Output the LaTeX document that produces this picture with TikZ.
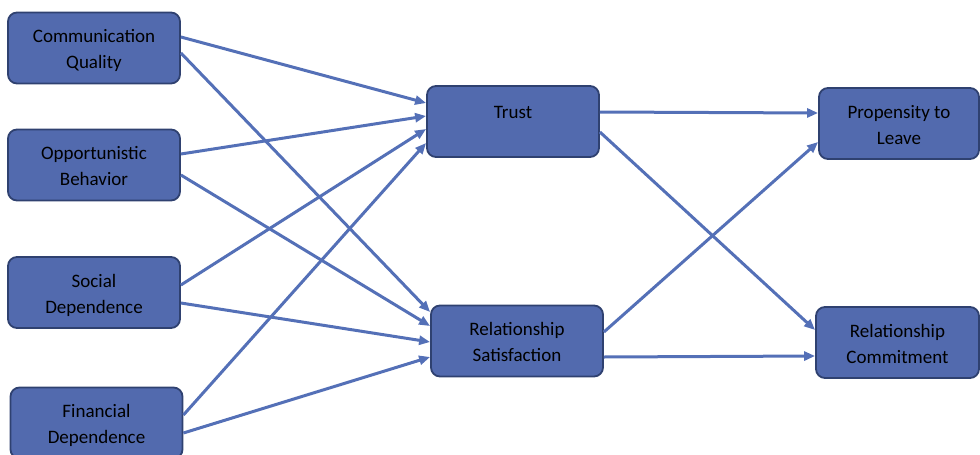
\documentclass[tikz,border=0pt]{standalone}
\usepackage{fontspec}
\setmainfont{Carlito}
\usetikzlibrary{arrows.meta}

\definecolor{boxfill}{RGB}{82,106,174}
\definecolor{boxline}{RGB}{47,65,112}
\definecolor{linkblue}{RGB}{84,112,183}

\tikzset{
  factor/.style={draw=boxline, fill=boxfill, line width=1.8pt, rounded corners=9pt,
    minimum height=71pt, minimum width=172pt, inner sep=0pt, align=center,
    text height=46pt, text depth=5pt,
    text=black, font=\fontsize{19}{26}\selectfont},
  link/.style={->, draw=linkblue, line width=3pt},
}

\begin{document}
\begin{tikzpicture}[line join=round,>={Triangle[length=11pt,width=9pt]},x=1pt,y=-1pt]
        \useasboundingbox (0,0) rectangle (980,455);
        % left column
        \node[factor] (comm) at (94,48) {Communication\\Quality};
        \node[factor] (oppb) at (94,165) {Opportunistic\\Behavior};
        \node[factor] (socd) at (94,292.5) {Social\\Dependence};
        \node[factor] (find) at (96.5,423) {Financial\\Dependence};
        % middle column
        \node[factor, text height=15pt, text depth=21pt] (trust) at (513,121.5) {Trust};
        \node[factor] (rsat) at (517,341) {Relationship\\Satisfaction};
        % right column
        \node[factor, minimum width=160pt] (leave) at (899,123.5) {Propensity to\\Leave};
        \node[factor, minimum width=163pt] (rcom) at (897.5,342.5) {Relationship\\Commitment};
        % links
        \draw [link] ([yshift=11pt]comm.east) -- ([yshift=18.5pt]trust.west);
        \draw [link] ([yshift=-5pt]comm.east) -- ([yshift=29pt]rsat.west);
        \draw [link] ([yshift=11pt]oppb.east) -- ([yshift=5.5pt]trust.west);
        \draw [link] ([yshift=-10pt]oppb.east) -- ([yshift=15pt]rsat.west);
        \draw [link] ([yshift=7.5pt]socd.east) -- ([yshift=-7.5pt]trust.west);
        \draw [link] ([yshift=-10.5pt]socd.east) -- ([yshift=-1pt]rsat.west);
        \draw [link] ([yshift=8pt]find.east) -- ([yshift=-21.5pt]trust.west);
        \draw [link] ([yshift=-10pt]find.east) -- ([yshift=-16pt]rsat.west);
        \draw [link] ([yshift=9.5pt]trust.east) -- ([yshift=10.5pt]leave.west);
        \draw [link] ([yshift=-10.5pt]trust.east) -- ([yshift=12.5pt]rcom.west);
        \draw [link] ([yshift=9pt]rsat.east) -- ([yshift=-18.5pt]leave.west);
        \draw [link] ([yshift=-16pt]rsat.east) -- ([yshift=-13.5pt]rcom.west);
\end{tikzpicture}
\end{document}
